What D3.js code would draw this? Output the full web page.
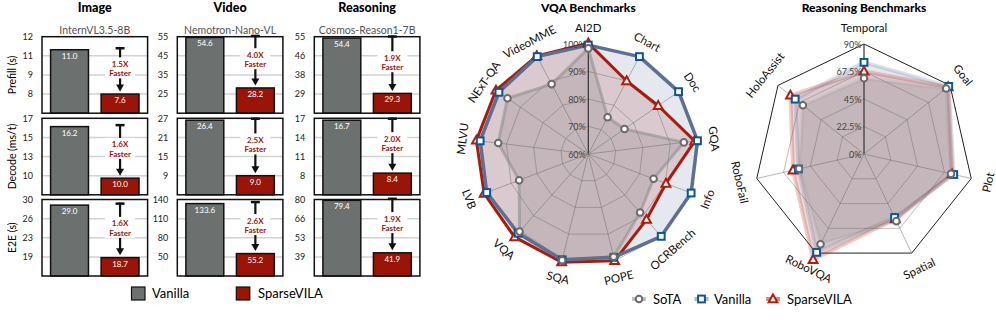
<!DOCTYPE html>
<html>
<head>
<meta charset="utf-8">
<script src="https://cdn.jsdelivr.net/npm/d3@7"></script>
<style>
  body { margin: 0; background: #fff; }
  svg { display: block; font-family: Lato, "DejaVu Sans", sans-serif; }
</style>
</head>
<body>
<script>
const width = 996;
const height = 320;

// ---- latency bars: [column][row]
const barCols = ["Image", "Video", "Reasoning"];
const barModels = ["InternVL3.5-8B", "Nemotron-Nano-VL", "Cosmos-Reason1-7B"];
const barRows = ["Prefill (s)", "Decode (ms/t)", "E2E (s)"];
const barNames = ["Vanilla", "SparseVILA"];
const vanillaLatency = [[11.0, 16.2, 29.0], [54.6, 26.4, 133.6], [54.4, 16.7, 79.4]];
const sparseLatency = [[7.6, 10.0, 18.7], [28.2, 9.0, 55.2], [29.3, 8.4, 41.9]];
const speedups = [["1.5X", "1.6X", "1.6X"], ["4.0X", "2.5X", "2.6X"], ["1.9X", "2.0X", "1.9X"]];
// lowest / highest labelled tick of each panel
const tickRange = [
  [[7.6, 12], [10.3, 17.2], [18.85, 30.1]],
  [[25, 55], [9, 27], [50, 140]],
  [[29, 55], [8, 17], [39, 80]],
];
// tick labels read top to bottom
const tickLabels = [
  [["12", "11", "9", "8"], ["17", "15", "13", "10"], ["30", "26", "23", "19"]],
  [["55", "45", "35", "25"], ["27", "21", "15", "9"], ["140", "110", "80", "50"]],
  [["55", "46", "38", "29"], ["17", "14", "11", "8"], ["80", "66", "53", "39"]],
];

// ---- VQA radar
const vqaAxes = ["AI2D", "Chart", "Doc", "GQA", "Info", "OCRBench", "POPE", "SQA", "VQA", "LVB", "MLVU", "NExT-QA", "VideoMME"];
const vqaSota = [98.4, 75.1, 76.0, 95.0, 85.4, 88.4, 98.5, 99.8, 97.7, 86.9, 93.0, 95.7, 88.7];
const vqaVanilla = [99.6, 100, 99.9, 100, 100, 100, 98.7, 99.6, 98.5, 99.5, 99.6, 99.5, 100];
const vqaSparse = [100.3, 90.0, 90.9, 99.0, 90.2, 91.9, 100, 100.5, 100.4, 100.5, 101, 100.8, 100.3];
const vqaTicks = [60, 70, 80, 90, 100];

// ---- Reasoning radar
const reasonAxes = ["Temporal", "Goal", "Plot", "Spatial", "RoboVQA", "RoboFail", "HoloAssist"];
const reasonSota = [62, 86, 73, 61, 82, 54.5, 64];
const reasonVanilla = [75, 88.7, 75.3, 57.7, 89.3, 55, 72];
const reasonSparse = [67.6, 88, 74, 59, 96, 59.6, 77];
const reasonTicks = [0, 22.5, 45, 67.5, 90];

const legendNames = ["SoTA", "Vanilla", "SparseVILA"];

const colors = {
  vanillaBar: "#6c7170",
  sparseBar: "#9a1407",
  note: "#a3120c",
  grid: "#d2d2d2",
};

const svg = d3.select("body").append("svg").attr("width", width).attr("height", height);

// ================= bar panels =================
const colLeft = [42, 177.3, 314.3];
const rowTop = [36.7, 118.3, 199.5];
const boxW = 105.6;
const boxH = 76.5;

barCols.forEach((col, c) => {
  const x0 = colLeft[c];
  svg.append("text")
    .attr("x", x0 + boxW / 2).attr("y", 12)
    .attr("text-anchor", "middle")
    .attr("font-size", 12.5).attr("font-weight", 900)
    .text(col);
  svg.append("text")
    .attr("x", x0 + boxW / 2).attr("y", 33.5)
    .attr("text-anchor", "middle")
    .attr("font-size", 10.5).attr("fill", "#555")
    .text(barModels[c]);

  barRows.forEach((row, r) => {
    const y0 = rowTop[r];
    const [lo, hi] = tickRange[c][r];
    const step = (hi - lo) / 3;
    const ticks = d3.range(4).map((k) => lo + k * step);
    const y = d3.scaleLinear().domain([lo - step, hi]).range([y0 + boxH, y0]);
    const x = d3.scaleBand().domain(barNames).range([x0, x0 + boxW])
      .paddingInner(0.25).paddingOuter(0.17);
    const vals = [vanillaLatency[c][r], sparseLatency[c][r]];
    const g = svg.append("g");

    g.selectAll("line.grid")
      .data(ticks.slice(0, 3))
      .join("line")
      .attr("x1", x0).attr("x2", x0 + boxW)
      .attr("y1", (d) => y(d)).attr("y2", (d) => y(d))
      .style("stroke", colors.grid).style("stroke-width", 1.5);

    g.selectAll("rect.bar")
      .data(vals)
      .join("rect")
      .attr("x", (d, i) => x(barNames[i]))
      .attr("y", (d) => y(d))
      .attr("width", x.bandwidth())
      .attr("height", (d) => y0 + boxH - y(d))
      .style("fill", (d, i) => (i ? colors.sparseBar : colors.vanillaBar))
      .style("stroke", "#111").style("stroke-width", 1.5);

    g.selectAll("text.val")
      .data(vals)
      .join("text")
      .attr("x", (d, i) => x(barNames[i]) + x.bandwidth() / 2)
      .attr("y", (d) => y(d) + 9)
      .attr("text-anchor", "middle")
      .attr("font-size", 8).attr("fill", "#fff")
      .text((d) => d.toFixed(1));

    // speed-up annotation
    const xc = x("SparseVILA") + x.bandwidth() / 2;
    const yTop = y(vals[0]) - 2.5;
    const yBot = y(vals[1]) - 2.5;
    g.append("line").attr("x1", xc).attr("x2", xc).attr("y1", yTop).attr("y2", yBot - 5)
      .style("stroke", "#111").style("stroke-width", 2.2);
    g.append("line").attr("x1", xc - 4.5).attr("x2", xc + 4.5).attr("y1", yTop + 1).attr("y2", yTop + 1)
      .style("stroke", "#111").style("stroke-width", 2.5);
    g.append("path")
      .attr("d", `M${xc - 4},${yBot - 7}L${xc + 4},${yBot - 7}L${xc},${yBot}Z`)
      .style("fill", "#111");
    const mid = (yTop + yBot) / 2 - 1;
    g.append("rect").attr("x", xc - 15).attr("y", mid - 11).attr("width", 30).attr("height", 21)
      .style("fill", "#fff");
    g.append("text").attr("x", xc).attr("y", mid - 1.5)
      .attr("text-anchor", "middle").attr("font-size", 8).attr("font-weight", 700)
      .attr("fill", colors.note).text(speedups[c][r]);
    g.append("text").attr("x", xc).attr("y", mid + 8)
      .attr("text-anchor", "middle").attr("font-size", 8).attr("font-weight", 700)
      .attr("fill", colors.note).text("Faster");

    g.append("rect").attr("x", x0).attr("y", y0).attr("width", boxW).attr("height", boxH)
      .style("fill", "none").style("stroke", "#111").style("stroke-width", 1.5);

    const axis = d3.axisLeft(y).tickValues(ticks).tickSize(0).tickPadding(9)
      .tickFormat((d, i) => tickLabels[c][r][3 - i]);
    const ag = svg.append("g").attr("transform", `translate(${x0},0)`).call(axis);
    ag.select(".domain").remove();
    ag.selectAll("text").attr("font-size", 9).attr("fill", "#222").attr("font-family", "Lato");

    if (c === 0) {
      svg.append("text")
        .attr("transform", `translate(12,${y0 + boxH / 2}) rotate(-90)`)
        .attr("text-anchor", "middle").attr("dominant-baseline", "central")
        .attr("font-size", 10.5)
        .text(row);
    }
  });
});

// bar legend
const barLegend = svg.append("g");
[[131.5, 152], [236.3, 258]].forEach(([sx, tx], i) => {
  barLegend.append("rect").attr("x", sx).attr("y", 287).attr("width", 13.5).attr("height", 13)
    .style("fill", i ? colors.sparseBar : colors.vanillaBar).style("stroke", "#111").style("stroke-width", 1.2);
  barLegend.append("text").attr("x", tx).attr("y", 298).attr("font-size", 13).text(barNames[i]);
});

// ================= radars =================
const seriesStyle = [
  { fill: "rgba(90,90,90,0.17)", line: "rgba(140,140,140,0.55)", lw: 3, mark: "#6b6b6b", shape: "circle" },
  { fill: "rgba(170,178,202,0.30)", line: "#5e6f8f", lw: 3.5, mark: "#0d5593", shape: "square" },
  { fill: "rgba(165,45,45,0.17)", line: "#a81c10", lw: 3, mark: "#b81a0a", shape: "triangle" },
];

const drawMarker = (sel, shape, stroke) => {
  if (shape === "circle") {
    sel.append("circle").attr("r", 3.3).style("fill", "#fff").style("stroke", stroke).style("stroke-width", 2);
  } else if (shape === "square") {
    sel.append("rect").attr("x", -3.4).attr("y", -3.4).attr("width", 6.8).attr("height", 6.8)
      .style("fill", "#fff").style("stroke", stroke).style("stroke-width", 2);
  } else {
    sel.append("path").attr("d", "M0,-4.6L4.4,3.2L-4.4,3.2Z")
      .style("fill", "#fff").style("stroke", stroke).style("stroke-width", 2);
  }
};

const drawRadar = (cfg) => {
  const { cx, cy, axes, series, rScale, ticks, tickText, gridLevels, outer, title, faint } = cfg;
  const n = axes.length;
  const ang = (i) => (i * 2 * Math.PI) / n;
  const g = svg.append("g").attr("transform", `translate(${cx},${cy})`);
  const radial = d3.lineRadial().angle((d, i) => ang(i)).radius((d) => rScale(d)).curve(d3.curveLinearClosed);

  svg.append("text").attr("x", cx).attr("y", 12).attr("text-anchor", "middle")
    .attr("font-size", 12).attr("font-weight", 900).text(title);

  if (outer) {
    g.append("path").attr("d", radial(axes.map(() => outer)))
      .style("fill", "none").style("stroke", "#222").style("stroke-width", 1);
  }

  // fills (largest first)
  [1, 2, 0].forEach((s) => {
    g.append("path").attr("d", radial(series[s])).style("fill", seriesStyle[s].fill).style("stroke", "none");
  });

  // web
  gridLevels.forEach((lv) => {
    g.append("path").attr("d", radial(axes.map(() => lv)))
      .style("fill", "none").style("stroke", "rgba(110,110,110,0.45)").style("stroke-width", 1);
  });
  g.selectAll("line.axis")
    .data(axes)
    .join("line")
    .attr("x1", 0).attr("y1", 0)
    .attr("x2", (d, i) => d3.pointRadial(ang(i), rScale.range()[1])[0])
    .attr("y2", (d, i) => d3.pointRadial(ang(i), rScale.range()[1])[1])
    .style("stroke", (d, i) => (i ? "rgba(110,110,110,0.5)" : "#333"))
    .style("stroke-width", (d, i) => (i ? 1 : 1.2));

  // outlines
  [0, 2, 1].forEach((s) => {
    const st = seriesStyle[s];
    g.append("path").attr("d", radial(series[s]))
      .style("fill", "none")
      .style("stroke", st.line)
      .style("stroke-width", faint ? 4 : st.lw)
      .style("stroke-opacity", faint ? 0.22 : 1)
      .style("stroke-linejoin", "round");
  });

  // markers
  [2, 1, 0].forEach((s) => {
    series[s].forEach((v, i) => {
      const [px, py] = d3.pointRadial(ang(i), rScale(v));
      const m = g.append("g").attr("transform", `translate(${px},${py})`);
      drawMarker(m, seriesStyle[s].shape, seriesStyle[s].mark);
    });
  });

  // tick labels
  g.selectAll("text.tick")
    .data(ticks)
    .join("text")
    .attr("x", -2.5)
    .attr("y", (d) => -rScale(d))
    .attr("text-anchor", "end").attr("dominant-baseline", "central")
    .attr("font-size", 9).attr("fill", "#444")
    .text(tickText);

  // axis labels
  g.selectAll("text.lab")
    .data(axes)
    .join("text")
    .attr("transform", (d, i) => {
      const [lx, ly] = d3.pointRadial(ang(i), cfg.labelR);
      const a = (ang(i) * 180) / Math.PI;
      const rot = a <= 90 || a >= 270 ? a : a - 180;
      return `translate(${lx},${ly}) rotate(${rot})`;
    })
    .attr("text-anchor", "middle").attr("dominant-baseline", "central")
    .attr("font-size", 11.5).attr("fill", "#111")
    .text((d) => d);
};

drawRadar({
  cx: 588.3, cy: 154, title: "VQA Benchmarks",
  axes: vqaAxes,
  series: [vqaSota, vqaVanilla, vqaSparse],
  rScale: d3.scaleLinear().domain([60, 100]).range([0, 110]),
  ticks: vqaTicks, tickText: (d) => `${d}%`,
  gridLevels: [70, 80, 90, 100],
  labelR: 127,
  faint: false,
});

drawRadar({
  cx: 864, cy: 154, title: "Reasoning Benchmarks",
  axes: reasonAxes,
  series: [reasonSota, reasonVanilla, reasonSparse],
  rScale: d3.scaleLinear().domain([0, 90]).range([0, 110]),
  ticks: reasonTicks, tickText: (d) => `${d}%`,
  gridLevels: [22.5, 45, 67.5],
  outer: 90,
  labelR: 127,
  faint: true,
});

// radar legend
const radarLegend = svg.append("g");
const legendY = 299;
[[639, 653], [701.5, 714], [773, 787]].forEach(([mx, tx], s) => {
  const st = seriesStyle[s];
  radarLegend.append("line").attr("x1", mx - 7).attr("x2", mx + 7).attr("y1", legendY).attr("y2", legendY)
    .style("stroke", st.line).style("stroke-width", 4).style("stroke-opacity", s === 0 ? 1 : 0.5);
  const m = radarLegend.append("g").attr("transform", `translate(${mx},${legendY})`);
  drawMarker(m, st.shape, st.mark);
  radarLegend.append("text").attr("x", tx).attr("y", legendY + 4.5).attr("font-size", 13).text(legendNames[s]);
});
</script>
</body>
</html>
